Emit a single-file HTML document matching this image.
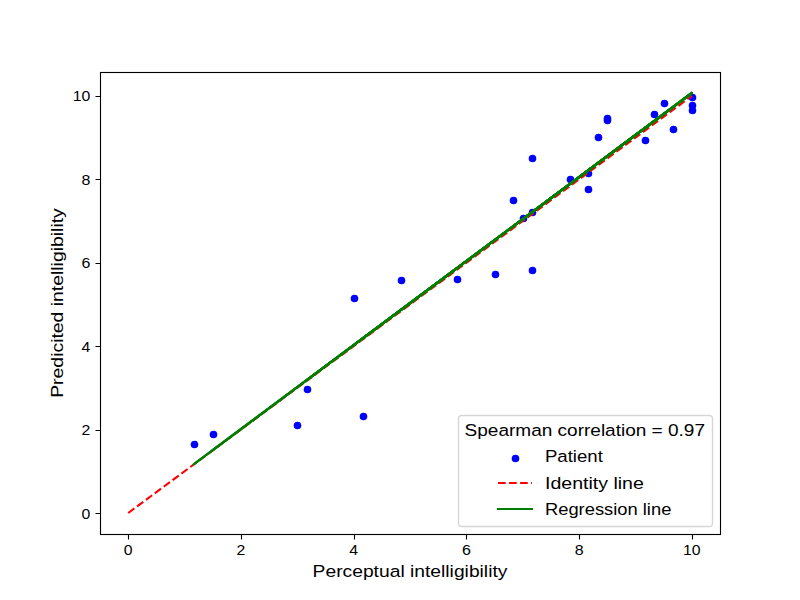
<!DOCTYPE html>
<html lang="en">
<head>
<meta charset="utf-8">
<title>Predicted vs perceptual intelligibility</title>
<style>
html,body{margin:0;padding:0;background:#fff}
body{width:800px;height:600px;overflow:hidden;font-family:"Liberation Sans",sans-serif}
svg{display:block}
.ink{fill:#000}
.sel{font-family:"Liberation Sans",sans-serif;fill:#000}
</style>
</head>
<body>
<svg width="800" height="600" viewBox="0 0 800 600" role="img" aria-label="Scatter plot of predicted versus perceptual intelligibility">
<defs>
<clipPath id="ax"><rect x="100" y="72" width="620" height="462"/></clipPath>
</defs>
<rect width="800" height="600" fill="#fff"/>
<g clip-path="url(#ax)">
<g fill="#00f">
<circle cx="194.5" cy="444.5" r="3.8"/><circle cx="213.5" cy="434.5" r="3.8"/><circle cx="297.5" cy="425.5" r="3.8"/><circle cx="307.5" cy="389.5" r="3.8"/><circle cx="354.5" cy="298.5" r="3.8"/><circle cx="363.5" cy="416.5" r="3.8"/><circle cx="401.5" cy="280.5" r="3.8"/><circle cx="457.5" cy="279.5" r="3.8"/><circle cx="495.5" cy="274.5" r="3.8"/><circle cx="532.5" cy="270.5" r="3.8"/><circle cx="513.5" cy="200.5" r="3.8"/><circle cx="523.5" cy="218.5" r="3.8"/><circle cx="532.5" cy="212.5" r="3.8"/><circle cx="532.5" cy="158.5" r="3.8"/><circle cx="570.5" cy="179.5" r="3.8"/><circle cx="588.5" cy="173.5" r="3.8"/><circle cx="588.5" cy="189.5" r="3.8"/><circle cx="598.5" cy="137.5" r="3.8"/><circle cx="607.5" cy="118.5" r="3.8"/><circle cx="607.5" cy="120.5" r="3.8"/><circle cx="645.5" cy="140.5" r="3.8"/><circle cx="654.5" cy="114.5" r="3.8"/><circle cx="664.5" cy="103.5" r="3.8"/><circle cx="673.5" cy="129.5" r="3.8"/><circle cx="692.5" cy="97.5" r="3.8"/><circle cx="692.5" cy="105.5" r="3.8"/><circle cx="692.5" cy="110.5" r="3.8"/>
</g>
<path d="M128.182 513.000L691.818 95.940" fill="none" stroke="#f00" stroke-width="2.0833" stroke-dasharray="7.7083 3.3333"/>
<g fill="none" stroke="#008000" stroke-width="2.2" stroke-linecap="round">
<path d="M607.27 156.04L597.88 163.04"/><path d="M597.88 163.04L532.12 212.07"/><path d="M532.12 212.07L691.82 93.00"/><path d="M691.82 93.00L588.48 170.05"/><path d="M588.48 170.05L532.12 212.07"/><path d="M532.12 212.07L297.27 387.17"/><path d="M297.27 387.17L212.73 450.21"/><path d="M212.73 450.21L673.03 107.01"/><path d="M673.03 107.01L569.70 184.05"/><path d="M569.70 184.05L353.64 345.15"/><path d="M353.64 345.15L663.64 114.01"/><path d="M663.64 114.01L400.61 310.13"/><path d="M400.61 310.13L456.97 268.10"/><path d="M456.97 268.10L363.03 338.14"/><path d="M363.03 338.14L644.85 128.02"/><path d="M644.85 128.02L532.12 212.07"/><path d="M532.12 212.07L522.73 219.07"/><path d="M522.73 219.07L691.82 93.00"/><path d="M691.82 93.00L607.27 156.04"/><path d="M607.27 156.04L654.24 121.02"/><path d="M654.24 121.02L193.94 464.22"/><path d="M193.94 464.22L494.55 240.09"/><path d="M494.55 240.09L306.67 380.17"/><path d="M306.67 380.17L691.82 93.00"/><path d="M691.82 93.00L513.33 226.08"/>
</g>
</g>
<path d="M128.5 534.5v5M241.5 534.5v5M354.5 534.5v5M466.5 534.5v5M579.5 534.5v5M692.5 534.5v5M100.5 513.5h-5M100.5 430.5h-5M100.5 346.5h-5M100.5 263.5h-5M100.5 179.5h-5M100.5 96.5h-5" fill="none" stroke="#000" stroke-width="1.1111"/>
<rect x="100.5" y="72.5" width="620" height="462" fill="none" stroke="#000" stroke-width="1.1111"/>
<rect x="458.5" y="415.5" width="254" height="111" rx="3.3333" fill="#fff" fill-opacity="0.8" stroke="#ccc" stroke-opacity="0.8" stroke-width="1.3889"/>
<circle cx="515.5" cy="458.5" r="3.8" fill="#00f"/>
<path d="M498 483H532" fill="none" stroke="#f00" stroke-width="2.0833" stroke-dasharray="7.7083 3.3333"/>
<path d="M498 509H532" fill="none" stroke="#008000" stroke-width="2.0833" stroke-linecap="square"/>
<g class="sel">
<text x="123.81" y="554.72" font-size="13.89" textLength="8.8" lengthAdjust="spacingAndGlyphs">0</text>
<text x="236.53" y="554.72" font-size="13.89" textLength="8.8" lengthAdjust="spacingAndGlyphs">2</text>
<text x="349.26" y="554.72" font-size="13.89" textLength="8.8" lengthAdjust="spacingAndGlyphs">4</text>
<text x="461.93" y="554.72" font-size="13.89" textLength="8.9" lengthAdjust="spacingAndGlyphs">6</text>
<text x="574.65" y="554.72" font-size="13.89" textLength="8.9" lengthAdjust="spacingAndGlyphs">8</text>
<text x="683.01" y="554.72" font-size="13.89" textLength="17.6" lengthAdjust="spacingAndGlyphs">10</text>
<text x="312.62" y="577.28" font-size="16.67" textLength="194.8" lengthAdjust="spacingAndGlyphs">Perceptual intelligibility</text>
<text x="81.53" y="518.50" font-size="13.89" textLength="8.8" lengthAdjust="spacingAndGlyphs">0</text>
<text x="81.53" y="435.09" font-size="13.89" textLength="8.8" lengthAdjust="spacingAndGlyphs">2</text>
<text x="81.53" y="351.68" font-size="13.89" textLength="8.8" lengthAdjust="spacingAndGlyphs">4</text>
<text x="81.40" y="268.26" font-size="13.89" textLength="8.9" lengthAdjust="spacingAndGlyphs">6</text>
<text x="81.40" y="184.85" font-size="13.89" textLength="8.9" lengthAdjust="spacingAndGlyphs">8</text>
<text x="72.65" y="101.44" font-size="13.89" textLength="17.6" lengthAdjust="spacingAndGlyphs">10</text>
<text transform="translate(63.10 397.81) rotate(-90)" font-size="16.67" textLength="189.6" lengthAdjust="spacingAndGlyphs">Predicited intelligibility</text>
<text x="464.62" y="436.00" font-size="16.67" textLength="240.4" lengthAdjust="spacingAndGlyphs">Spearman correlation = 0.97</text>
<text x="544.96" y="462.33" font-size="16.67" textLength="57.9" lengthAdjust="spacingAndGlyphs">Patient</text>
<text x="544.96" y="488.67" font-size="16.67" textLength="98.9" lengthAdjust="spacingAndGlyphs">Identity line</text>
<text x="544.96" y="515.00" font-size="16.67" textLength="126.4" lengthAdjust="spacingAndGlyphs">Regression line</text>
</g>
</svg>
</body>
</html>
